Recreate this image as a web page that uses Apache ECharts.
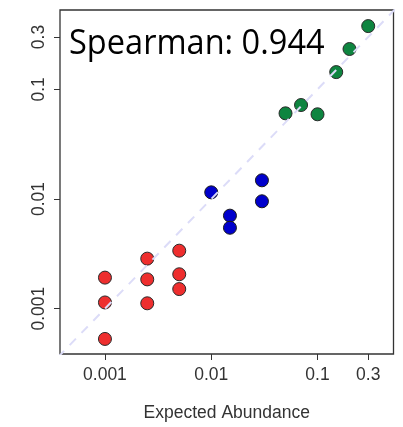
<!DOCTYPE html>
<html>
<head>
<meta charset="utf-8">
<script src="https://cdn.jsdelivr.net/npm/echarts@6/dist/echarts.min.js"></script>
<style>html,body{margin:0;padding:0;background:#fff;}#c{width:403px;height:427px;}</style>
</head>
<body>
<div id="c"></div>
<script>
// Tick labels
var tickValues = [0.001, 0.01, 0.1, 0.3];
var tickLabels = ['0.001', '0.01', '0.1', '0.3'];
// Red group (low abundance)
var redExpected = [0.001, 0.001, 0.001, 0.0025, 0.0025, 0.0025, 0.005, 0.005, 0.005];
var redObserved = [0.00192, 0.00114, 0.00053, 0.00286, 0.00185, 0.00112, 0.00338, 0.00206, 0.00151];
// Blue group (medium)
var blueExpected = [0.01, 0.015, 0.015, 0.03, 0.03];
var blueObserved = [0.0115, 0.00705, 0.00547, 0.0148, 0.00953];
// Green group (high)
var greenExpected = [0.05, 0.07, 0.1, 0.15, 0.2, 0.3];
var greenObserved = [0.0604, 0.0719, 0.0592, 0.1435, 0.233, 0.377];
var annotation = 'Spearman: 0.944';
var xTitle = 'Expected Abundance';

function pairs(xs, ys) { return xs.map(function (x, i) { return [x, ys[i]]; }); }

var xMin = Math.pow(10, -3.423), xMax = Math.pow(10, -0.285);
var yMin = Math.pow(10, -3.413), yMax = Math.pow(10, -0.277);

function fmt(v) {
  for (var i = 0; i < tickValues.length; i++) {
    if (Math.abs(Math.log10(v) - Math.log10(tickValues[i])) < 1e-6) return tickLabels[i];
  }
  return '';
}

var chart = echarts.init(document.getElementById('c'), null, { renderer: 'canvas' });
chart.setOption({
  animation: false,
  backgroundColor: '#ffffff',
  grid: { left: 60, right: 9.5, top: 10, bottom: 73, show: true, borderColor: '#333333', borderWidth: 1.3, backgroundColor: 'transparent' },
  xAxis: {
    type: 'log', logBase: 10, min: xMin, max: xMax,
    name: xTitle, nameLocation: 'middle', nameGap: 50,
    nameTextStyle: { fontFamily: 'Liberation Sans', fontSize: 17.5, color: '#333333' },
    axisLine: { show: false },
    axisTick: { show: true, inside: false, length: 6, lineStyle: { color: '#333333', width: 1 }, customValues: tickValues },
    axisLabel: { fontFamily: 'Liberation Sans', fontSize: 17.5, color: '#333333', margin: 12, customValues: tickValues, formatter: fmt },
    splitLine: { show: false }, minorTick: { show: false }
  },
  yAxis: {
    type: 'log', logBase: 10, min: yMin, max: yMax,
    axisLine: { show: false },
    axisTick: { show: true, inside: false, length: 6, lineStyle: { color: '#333333', width: 1 }, customValues: tickValues },
    axisLabel: { fontFamily: 'Liberation Sans', fontSize: 17.5, color: '#333333', rotate: 90, margin: 12, customValues: tickValues, formatter: fmt },
    splitLine: { show: false }
  },
  series: [
    { type: 'scatter', data: pairs(redExpected, redObserved), symbol: 'circle', symbolSize: 13, z: 2,
      itemStyle: { color: '#ee2e2e', borderColor: '#2a2a2a', borderWidth: 1, opacity: 1 } },
    { type: 'scatter', data: pairs(blueExpected, blueObserved), symbol: 'circle', symbolSize: 13, z: 2,
      itemStyle: { color: '#0000cc', borderColor: '#1a1a1a', borderWidth: 1, opacity: 1 } },
    { type: 'scatter', data: pairs(greenExpected, greenObserved), symbol: 'circle', symbolSize: 13, z: 2,
      itemStyle: { color: '#0e8540', borderColor: '#2a2a2a', borderWidth: 1, opacity: 1 } },
    { type: 'line', data: [[1e-4, 1e-4], [1, 1]], showSymbol: false, symbol: 'none', clip: true, silent: true, z: 3,
      lineStyle: { color: '#dcdcf8', width: 2, type: [9, 8] } }
  ],
  graphic: [{
    type: 'text', x: 69, y: 27, scaleX: 0.93, z: 10,
    style: { text: annotation, font: '35px "Open Sans"', fill: '#000000' }
  }]
});
</script>
</body>
</html>
